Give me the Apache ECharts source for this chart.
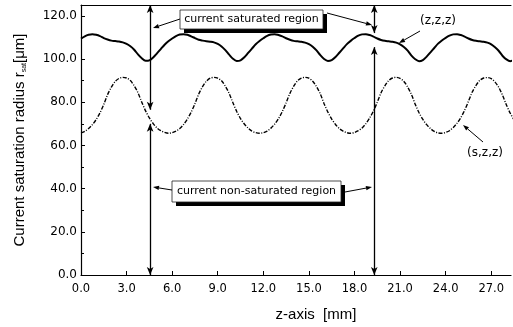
<!DOCTYPE html>
<html>
<head>
<meta charset="utf-8">
<script src="https://cdn.jsdelivr.net/npm/echarts@6/dist/echarts.min.js"></script>
<style>
  html, body { margin: 0; padding: 0; background: #fff; }
  #chart { width: 513px; height: 327px; }
</style>
</head>
<body>
<div id="chart"></div>
<script>
// z positions [mm]
var zPos = [
  0.0, 0.25, 0.5, 0.75, 1.0, 1.25, 1.5, 1.75, 2.0, 2.25, 2.5, 2.75,
  3.0, 3.25, 3.5, 3.75, 4.0, 4.25, 4.5, 4.75, 5.0, 5.25, 5.5, 5.75,
  6.0, 6.25, 6.5, 6.75, 7.0, 7.25, 7.5, 7.75, 8.0, 8.25, 8.5, 8.75,
  9.0, 9.25, 9.5, 9.75, 10.0, 10.25, 10.5, 10.75, 11.0, 11.25, 11.5, 11.75,
  12.0, 12.25, 12.5, 12.75, 13.0, 13.25, 13.5, 13.75, 14.0, 14.25, 14.5, 14.75,
  15.0, 15.25, 15.5, 15.75, 16.0, 16.25, 16.5, 16.75, 17.0, 17.25, 17.5, 17.75,
  18.0, 18.25, 18.5, 18.75, 19.0, 19.25, 19.5, 19.75, 20.0, 20.25, 20.5, 20.75,
  21.0, 21.25, 21.5, 21.75, 22.0, 22.25, 22.5, 22.75, 23.0, 23.25, 23.5, 23.75,
  24.0, 24.25, 24.5, 24.75, 25.0, 25.25, 25.5, 25.75, 26.0, 26.25, 26.5, 26.75,
  27.0, 27.25, 27.5, 27.75, 28.0, 28.25, 28.5];

// (z,z,z) curve, r_sat [um]
var zzzVals = [
  109.4, 110.5, 111.2, 111.5, 111.2, 110.6, 109.7, 109.0, 108.5, 108.3, 108.1, 107.7,
  107.0, 105.9, 104.3, 102.1, 100.3, 99.2, 99.4, 100.7, 102.6, 104.6, 106.6, 108.2,
  109.5, 110.6, 111.3, 111.5, 111.2, 110.5, 109.7, 108.9, 108.5, 108.2, 108.0, 107.7,
  107.0, 105.8, 104.1, 102.0, 100.1, 99.1, 99.4, 100.8, 102.8, 104.8, 106.8, 108.3,
  109.6, 110.7, 111.3, 111.5, 111.1, 110.5, 109.6, 108.9, 108.4, 108.2, 108.0, 107.6,
  106.9, 105.7, 104.0, 101.8, 100.0, 99.1, 99.5, 100.9, 102.9, 104.9, 106.9, 108.4,
  109.7, 110.8, 111.4, 111.5, 111.1, 110.4, 109.5, 108.8, 108.4, 108.2, 108.0, 107.6,
  106.8, 105.6, 103.9, 101.6, 99.9, 99.0, 99.5, 101.1, 103.1, 105.1, 107.1, 108.6,
  109.8, 110.8, 111.4, 111.5, 111.1, 110.4, 109.5, 108.8, 108.4, 108.2, 108.0, 107.6,
  106.8, 105.4, 103.7, 101.4, 99.8, 99.0, 99.6];

// (s,z,z) curve, r_sat [um]
var szzVals = [
  65.8, 66.5, 67.8, 69.6, 72.0, 75.1, 79.0, 83.5, 87.0, 89.6, 91.0, 91.5,
  91.2, 90.0, 87.6, 84.4, 80.0, 76.0, 72.7, 70.1, 68.1, 66.8, 66.0, 65.6,
  65.9, 66.6, 67.8, 69.7, 72.2, 75.4, 79.3, 83.8, 87.2, 89.7, 91.1, 91.5,
  91.1, 89.9, 87.4, 84.1, 79.7, 75.7, 72.4, 69.9, 68.0, 66.6, 65.9, 65.6,
  65.9, 66.6, 68.0, 69.9, 72.4, 75.7, 79.7, 84.1, 87.4, 89.9, 91.1, 91.5,
  91.1, 89.7, 87.2, 83.8, 79.3, 75.4, 72.2, 69.7, 67.8, 66.6, 65.9, 65.6,
  66.0, 66.8, 68.1, 70.1, 72.7, 76.0, 80.0, 84.4, 87.6, 90.0, 91.2, 91.5,
  91.0, 89.6, 87.0, 83.5, 79.0, 75.1, 72.0, 69.6, 67.8, 66.5, 65.8, 65.6,
  66.0, 66.8, 68.3, 70.3, 72.9, 76.3, 80.4, 84.7, 87.8, 90.1, 91.2, 91.4,
  90.9, 89.3, 86.8, 83.1, 78.7, 74.9, 71.8];

// region boundaries [mm]
var boundA = 4.55;
var boundB = 19.3;

var chart = echarts.init(document.getElementById('chart'));

function pairs(xs, ys) {
  return xs.map(function (x, i) { return [x, ys[i]]; });
}

// small arrow: line from (x1,y1) to (x2,y2) with a head at the end
function arrow(x1, y1, x2, y2) {
  var a = Math.atan2(y2 - y1, x2 - x1), L = 6, W = 2.2;
  var bx = x2 - L * Math.cos(a), by = y2 - L * Math.sin(a);
  var px = -Math.sin(a) * W, py = Math.cos(a) * W;
  return [
    { type: 'line', shape: { x1: x1, y1: y1, x2: bx, y2: by }, style: { stroke: '#000', lineWidth: 1 }, z: 20 },
    { type: 'polygon', shape: { points: [[x2, y2], [bx + px, by + py], [bx - px, by - py]] }, style: { fill: '#000' }, z: 20 }
  ];
}

function box(x, y, w, h, text) {
  return [
    { type: 'rect', shape: { x: x + 4, y: y + 4, width: w, height: h }, style: { fill: '#000' }, z: 18 },
    { type: 'rect', shape: { x: x, y: y, width: w, height: h }, style: { fill: '#fff', stroke: '#222', lineWidth: 0.8 }, z: 19 },
    { type: 'text', x: x + w / 2, y: y + h / 2, style: { text: text, fill: '#000', font: '11px "DejaVu Sans"', align: 'center', verticalAlign: 'middle' }, z: 21 }
  ];
}

var graphics = [].concat(
  box(180, 10, 143, 19, 'current saturated region'),
  arrow(180, 19, 153, 28),
  arrow(327, 13, 372, 25),
  box(172, 181, 169, 21, 'current non-saturated region'),
  arrow(172, 190, 153, 187),
  arrow(345, 192, 372, 187),
  [{ type: 'text', x: 438, y: 21, style: { text: '(z,z,z)', fill: '#000', font: '12px "DejaVu Sans"', align: 'center', verticalAlign: 'middle' }, z: 21 }],
  arrow(420, 31, 399, 43),
  [{ type: 'text', x: 485, y: 153, style: { text: '(s,z,z)', fill: '#000', font: '12px "DejaVu Sans"', align: 'center', verticalAlign: 'middle' }, z: 21 }],
  arrow(483, 142, 463, 125)
);

function vseg(x, y1, y2) {
  return [{ coord: [x, y1] }, { coord: [x, y2] }];
}

var option = {
  animation: false,
  grid: { left: 81, right: 2, top: 5, bottom: 50 },
  xAxis: [
    {
      type: 'value',
      min: 0,
      max: 28.3,
      interval: 3,
      name: 'z-axis  [mm]',
      nameLocation: 'middle',
      nameGap: 32,
      nameTextStyle: { color: '#000', fontSize: 15, fontFamily: 'Liberation Sans', padding: [0, 0, 0, 40] },
      axisLine: { lineStyle: { color: '#000', width: 1.2 } },
      axisTick: { inside: true, length: 4, lineStyle: { color: '#000' } },
      axisLabel: {
        color: '#000', fontSize: 11.5, fontFamily: 'DejaVu Sans', margin: 8,
        showMaxLabel: false,
        formatter: function (v) { return v.toFixed(1); }
      },
      splitLine: { show: false }
    },
    {
      type: 'value', position: 'top', min: 0, max: 28.3,
      axisLine: { lineStyle: { color: '#000', width: 1 } },
      axisTick: { show: false }, axisLabel: { show: false }, splitLine: { show: false }
    }
  ],
  yAxis: {
    type: 'value',
    min: 0,
    max: 125,
    interval: 20,
    name: '{a|Current saturation radius r}{s|sat}{a|[μm]}',
    nameLocation: 'middle',
    nameGap: 53,
    nameRotate: 90,
    nameTextStyle: {
      rich: {
        a: { color: '#000', fontSize: 15, fontFamily: 'Liberation Sans' },
        s: { color: '#000', fontSize: 7, fontFamily: 'Liberation Sans', padding: [10, 0, 0, 0] }
      }
    },
    axisLine: { show: true, lineStyle: { color: '#000', width: 1.2 } },
    axisTick: { inside: true, length: 4, lineStyle: { color: '#000' } },
    minorTick: { show: true, splitNumber: 2, length: 3, lineStyle: { color: '#000' } },
    axisLabel: {
      color: '#000', fontSize: 12, fontFamily: 'DejaVu Sans', margin: 4,
      showMaxLabel: false,
      formatter: function (v) { return v.toFixed(1); }
    },
    splitLine: { show: false }
  },
  series: [
    {
      name: '(z,z,z)',
      type: 'line',
      data: pairs(zPos, zzzVals),
      smooth: 0.3,
      showSymbol: false,
      clip: true,
      lineStyle: { color: '#000', width: 2 },
      markLine: {
        silent: true,
        symbol: ['arrow', 'arrow'],
        symbolSize: [5, 8],
        label: { show: false },
        lineStyle: { color: '#000', width: 1.3, type: 'solid' },
        data: [
          vseg(boundA, 125, 76.5),
          vseg(boundA, 70, 0),
          vseg(boundB, 125, 112),
          vseg(boundB, 105.5, 0)
        ]
      }
    },
    {
      name: '(s,z,z)',
      type: 'line',
      data: pairs(zPos, szzVals),
      smooth: 0.3,
      showSymbol: false,
      clip: true,
      lineStyle: { color: '#000', width: 1.4, type: [4, 1.5, 1, 1.5] }
    }
  ],
  graphic: graphics
};

chart.setOption(option);
</script>
</body>
</html>
